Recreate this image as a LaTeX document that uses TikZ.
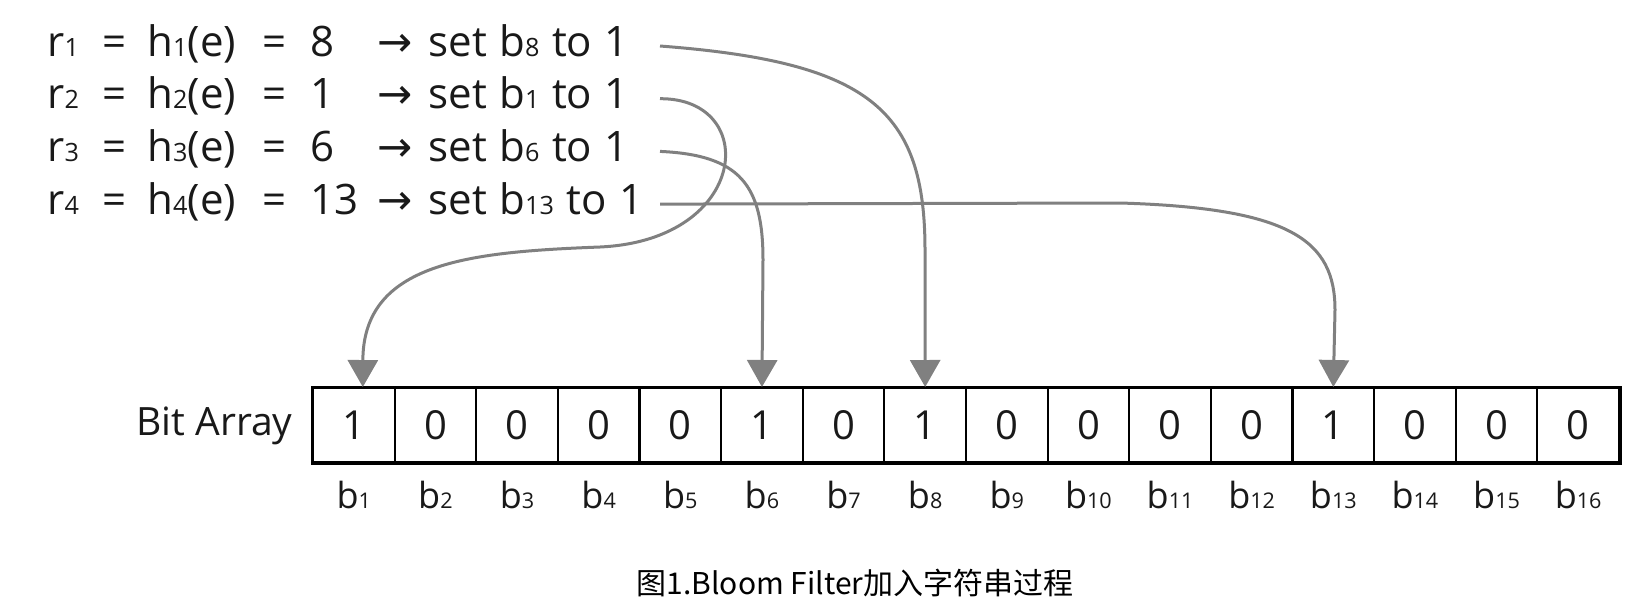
\documentclass[tikz,border=0pt]{standalone}
\usepackage{fontspec}
\setmainfont{Open Sans}
\newfontfamily\rowfont[WordSpace=1.15]{Open Sans}
\newfontfamily\cjkfont{Noto Sans CJK SC}
\newfontfamily\arrowfont{DejaVu Sans}
\usetikzlibrary{arrows.meta}
\definecolor{linkgray}{RGB}{128,128,128}
\definecolor{inkblack}{RGB}{25,25,25}
\newcommand{\idx}[1]{\scalebox{0.6}{#1}}

\begin{document}
\begin{tikzpicture}[x=0.5pt, y=-0.5pt, >={Triangle[length=13.5pt,width=15pt]},
    link/.style={->, draw=linkgray, line width=1.5pt},
    row/.style={anchor=base west, inner sep=0, text=inkblack, font=\rowfont\fontsize{21}{25}\selectfont},
    cell/.style={draw, line width=1pt, minimum width=40.8pt, minimum height=37pt, inner sep=0, text=inkblack, font=\fontsize{20}{24}\selectfont}]
\useasboundingbox (0,0) rectangle (1645,616);

\foreach \i/\hv/\k in {1/8/8, 2/1/1, 3/6/6, 4/13/13}
{
    \pgfmathsetmacro{\yb}{56+52.7*(\i-1)}
    \node[row] (r\i) at (47,\yb) {r\idx{\i}};
    \node[row, anchor=base] (e\i) at (115,\yb) {=};
    \node[row] (h\i) at (147,\yb) {h\idx{\i}(e)};
    \node[row, anchor=base] (q\i) at (275,\yb) {=};
    \node[row] (n\i) at (310,\yb) {\hv};
    \node[row] (a\i) at (377,\yb) {\arrowfont →};
    \node[row] (set\i) at (428,\yb) {set b\idx{\k} to 1};
    \coordinate (s\i) at (660,\yb-10);
}

\foreach \v [count=\i] in {1,0,0,0,0,1,0,1,0,0,0,0,1,0,0,0}
{
    \node[cell] (c\i) at ({313+81.625*(\i-0.5)},425) {\v};
    \node[anchor=base, inner sep=0, text=inkblack, font=\fontsize{18}{22}\selectfont] (b\i) at ({313+81.625*(\i-0.5)},508) {b\idx{\i}};
}
\draw[line width=1.5pt] (c1.north west) rectangle (c16.south east);
\node[anchor=base east, inner sep=0, text=inkblack, font=\fontsize{19.5}{22}\selectfont] (bitarray) at (293,435) {Bit Array};

\draw[link] (s1) .. controls (870,62) and (925,110) .. (925,250) -- (c8.north);
\draw[link] (s2) .. controls (760,98) and (750,240) .. (600,247) .. controls (470,252) and (363,262) .. ([xshift=4.5pt]c1.north);
\draw[link] (s3) .. controls (740,155) and (763,185) .. (763,260) -- (c6.north);
\draw[link] (s4) -- (1120,203) .. controls (1290,208) and (1335,240) .. (1335,310) -- (c13.north);

\node[text=black, font=\cjkfont\fontsize{15}{18}\selectfont] (caption) at (855,583) {图1.Bloom Filter加入字符串过程};
\end{tikzpicture}
\end{document}
